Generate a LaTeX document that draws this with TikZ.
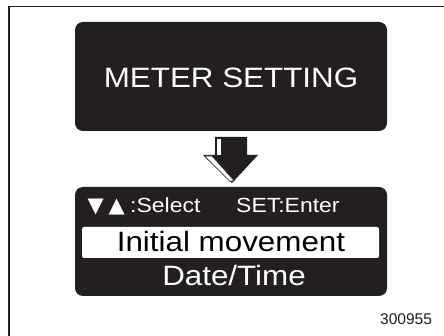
\documentclass[tikz,border=0pt]{standalone}
\usepackage{fontspec}
\setmainfont{Liberation Sans}
\newfontfamily\widefont[FakeStretch=1.12]{Liberation Sans}
\newfontfamily\symfont{DejaVu Sans}
\definecolor{panel}{HTML}{231F20}
\begin{document}
\begin{tikzpicture}[x=1pt,y=-1pt,
  panelbox/.style={fill=panel,draw=none,rounded corners=8pt},
  lighttext/.style={text=white,inner sep=0pt,font=\widefont\fontsize{28}{30}\selectfont},
  smalltext/.style={text=white,inner sep=0pt,font=\widefont\fontsize{20.5}{22}\selectfont}]
\useasboundingbox (0,0) rectangle (444,336);
\fill[white] (0,0) rectangle (444,336);
% frame (only left and top edges visible)
\draw[line width=1.6pt,panel] (9,340) -- (9,6.5) -- (450,6.5);
% top panel
\fill[panelbox] (75,22) rectangle (387,131);
\node[lighttext,anchor=base] (title) at (231,88) {METER SETTING};
% arrow
\fill[panel] (215,137) -- (247,137) -- (247,155) -- (258,155) -- (232,183) -- (203,155) -- (215,155) -- cycle;
\filldraw[fill=white,draw=panel,line width=0.6pt] (216,138) -- (221,138) -- (221,155.5) -- (216,155.5) -- cycle;
\filldraw[fill=white,draw=panel,line width=0.6pt] (204.5,156) -- (212,156) -- (234,180.5) -- (230,181.5) -- cycle;
% bottom panel
\fill[panelbox] (75,187) rectangle (387,296);
\node[smalltext,anchor=base west] (sel) at (87.5,213) {{\symfont\fontsize{21}{22}\selectfont\makebox[21pt][l]{▼}\makebox[21.5pt][l]{▲}}:Select};
\node[smalltext,anchor=base west] (ent) at (236,213) {SET:Enter};
\fill[white,rounded corners=2pt] (82,227) rectangle (379,258);
\node[lighttext,text=black,anchor=base] (init) at (231,252) {Initial movement};
\node[lighttext,anchor=base] (date) at (234,286) {Date/Time};
\node[inner sep=0pt,anchor=base west,text=panel,font=\fontsize{15.5}{17}\selectfont] (num) at (380,324) {300955};
\end{tikzpicture}
\end{document}
